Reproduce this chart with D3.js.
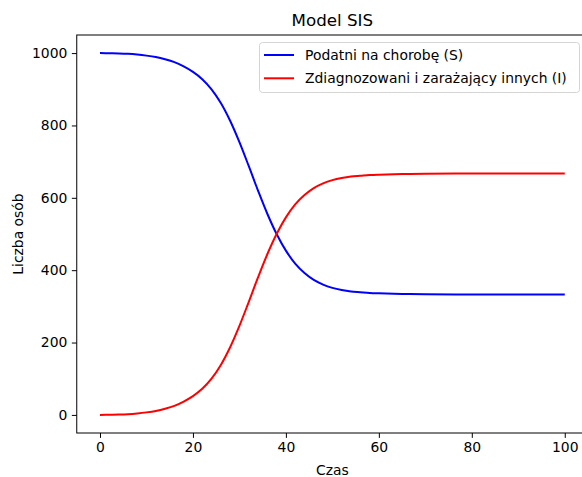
<!DOCTYPE html>
<html lang="pl">
<head>
    <meta charset="utf-8">
    <style>
        body { margin: 0; background: #fff; }
        svg { display: block; font-family: "DejaVu Sans", sans-serif; }
    </style>
</head>
<body>
    <svg width="582" height="477"></svg>
    <script src="https://cdn.jsdelivr.net/npm/d3@7"></script>
    <script>
        // Values
        const czas = [0, 2, 4, 6, 8, 10, 12, 14, 16, 18, 20, 22, 24, 26, 28, 30, 32, 34, 36, 38,
                      40, 42, 44, 46, 48, 50, 52, 54, 56, 58, 60, 65, 70, 80, 90, 100];
        const podatni = [1000, 999.5, 999, 998, 996, 993, 989, 983, 975, 963, 948, 928, 900, 862, 813, 754, 688, 620, 556, 500,
                         454, 418, 392, 373, 360, 351, 345, 341, 339, 337, 336, 334.5, 333.5, 333, 333, 333];
        const zarazajacy = [0, 0.5, 1, 2, 4, 7, 11, 17, 25, 37, 52, 72, 100, 138, 187, 246, 312, 380, 444, 500,
                            546, 582, 608, 627, 640, 649, 655, 659, 661, 663, 664, 665.5, 666.5, 667, 667, 667];
        const xTicks = [0, 20, 40, 60, 80, 100];
        const yTicks = [0, 200, 400, 600, 800, 1000];
        const seriesNames = ["Podatni na chorobę (S)", "Zdiagnozowani i zarażający innych (I)"];
        const seriesColors = ["#0000ff", "#ff0000"];

        const svg = d3.select("svg");

        // Axes box (right edge falls just outside the picture, as in the reference)
        const box = { left: 76.75, right: 588, top: 35, bottom: 433 };
        const x = d3.scaleLinear().domain([-5, 105]).range([box.left, box.right]);
        const y = d3.scaleLinear().domain([-50, 1050]).range([box.bottom, box.top]);

        const tickFont = 13.9;

        /************************************************************************************
        * Axes
        ************************************************************************************/
        const xAxis = svg.append("g")
            .attr("transform", `translate(0, ${box.bottom})`)
            .call(d3.axisBottom(x).tickValues(xTicks).tickSize(4.9).tickPadding(4.5).tickFormat(d3.format("d")));
        const yAxis = svg.append("g")
            .attr("transform", `translate(${box.left}, 0)`)
            .call(d3.axisLeft(y).tickValues(yTicks).tickSize(4.9).tickPadding(4.5).tickFormat(d3.format("d")));

        [xAxis, yAxis].forEach(a => {
            a.select(".domain").remove();
            a.selectAll("line").attr("stroke", "#000").attr("stroke-width", 1);
            a.selectAll("text").attr("font-size", tickFont).attr("fill", "#000")
                .attr("font-family", "DejaVu Sans");
        });

        // Frame
        svg.append("rect")
            .attr("x", box.left).attr("y", box.top)
            .attr("width", box.right - box.left).attr("height", box.bottom - box.top)
            .attr("fill", "none").attr("stroke", "#000").attr("stroke-width", 1);

        /************************************************************************************
        * Lines
        ************************************************************************************/
        const line = d3.line().curve(d3.curveCatmullRom.alpha(0.5))
            .x(d => x(d[0])).y(d => y(d[1]));

        svg.append("defs").append("clipPath").attr("id", "plot")
            .append("rect").attr("x", box.left).attr("y", box.top)
            .attr("width", box.right - box.left).attr("height", box.bottom - box.top);

        [podatni, zarazajacy].forEach((vals, i) => {
            svg.append("path")
                .datum(czas.map((t, j) => [t, vals[j]]))
                .attr("d", line)
                .attr("fill", "none")
                .attr("stroke", seriesColors[i])
                .attr("stroke-width", 2)
                .attr("clip-path", "url(#plot)");
        });

        /************************************************************************************
        * Texts
        ************************************************************************************/
        svg.append("text")
            .attr("x", (box.left + box.right) / 2).attr("y", 26)
            .attr("text-anchor", "middle").attr("font-size", 16.7)
            .text("Model SIS");

        svg.append("text")
            .attr("x", (box.left + box.right) / 2).attr("y", 475)
            .attr("text-anchor", "middle").attr("font-size", tickFont)
            .text("Czas");

        svg.append("text")
            .attr("transform", `translate(23, ${(box.top + box.bottom) / 2}) rotate(-90)`)
            .attr("text-anchor", "middle").attr("font-size", tickFont)
            .text("Liczba osób");

        /************************************************************************************
        * Legend
        ************************************************************************************/
        const legend = svg.append("g");
        legend.append("rect")
            .attr("x", 259.5).attr("y", 42.5).attr("width", 320).attr("height", 50)
            .attr("rx", 3)
            .attr("fill", "#fff").attr("fill-opacity", 0.8)
            .attr("stroke", "#d5d5d5").attr("stroke-width", 1);

        seriesNames.forEach((name, i) => {
            const ly = 55 + i * 23.3;
            legend.append("line")
                .attr("x1", 264).attr("x2", 294).attr("y1", ly).attr("y2", ly)
                .attr("stroke", seriesColors[i]).attr("stroke-width", 2);
            legend.append("text")
                .attr("x", 305).attr("y", ly).attr("dy", "0.35em")
                .attr("font-size", tickFont)
                .text(name);
        });
    </script>
</body>
</html>
